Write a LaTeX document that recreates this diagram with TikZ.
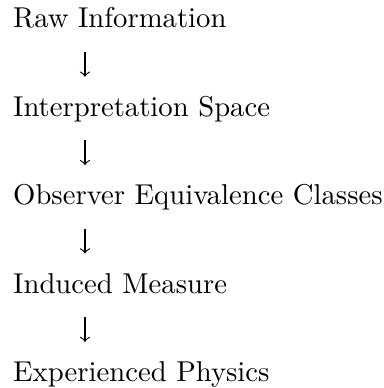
\documentclass[tikz,border=0pt]{standalone}
\usepackage{tikz}
\usetikzlibrary{positioning}

\begin{document}
\begin{tikzpicture}[
    stage/.style={
        anchor=base west, inner sep=0pt, text height=7pt, text depth=2pt,
        font=\normalsize
    },
    flow/.style={->, line width=0.4pt, shorten <=6.2pt, shorten >=6.6pt},
]

\useasboundingbox (-4.4pt,9.75pt) rectangle (129.4pt,-125.45pt);

% Stages
\node[stage] (raw)      at (0,0)         {Raw Information};
\node[stage] (interp)   at (0,-30.8pt)   {Interpretation Space};
\node[stage] (observer) at (0,-61.6pt)   {Observer Equivalence Classes};
\node[stage] (measure)  at (0,-92.4pt)   {Induced Measure};
\node[stage] (physics)  at (0,-123.2pt)  {Experienced Physics};

% Arrows
\draw[flow] ([xshift=25.2pt]raw.south west)      -- ([xshift=25.2pt]interp.north west);
\draw[flow] ([xshift=25.2pt]interp.south west)   -- ([xshift=25.2pt]observer.north west);
\draw[flow] ([xshift=25.2pt]observer.south west) -- ([xshift=25.2pt]measure.north west);
\draw[flow] ([xshift=25.2pt]measure.south west)  -- ([xshift=25.2pt]physics.north west);

\end{tikzpicture}
\end{document}
